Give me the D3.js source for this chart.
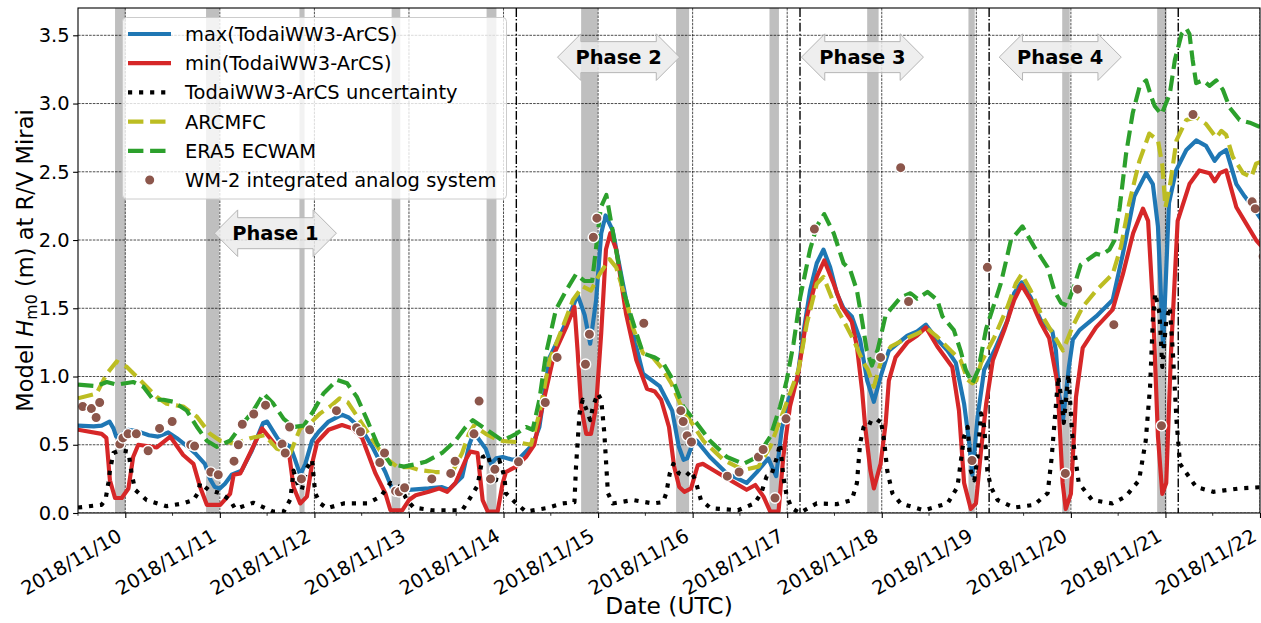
<!DOCTYPE html>
<html><head><meta charset="utf-8">
<script src="https://cdn.jsdelivr.net/npm/d3@7"></script>
<style>
body{margin:0;background:#fff;}
svg{display:block;font-family:"DejaVu Sans",sans-serif;}
</style></head><body>
<svg id="c" width="1261" height="623"></svg>
<script>
// ---------------- DATA (hours since 2018-11-10 00:00 UTC, value in m) ----------------
const dayTicks = ["2018/11/10","2018/11/11","2018/11/12","2018/11/13","2018/11/14","2018/11/15","2018/11/16","2018/11/17","2018/11/18","2018/11/19","2018/11/20","2018/11/21","2018/11/22"];
const yTicks = [0,0.5,1.0,1.5,2.0,2.5,3.0,3.5];

const maxTodai = [[-12,0.64],[-8,0.635],[-6,0.64],[-4,0.67],[-3,0.62],[-2.3,0.56],[-1,0.57],[0.7,0.61],[3,0.60],[6,0.57],[8.3,0.56],[10.9,0.59],[13,0.55],[15.9,0.485],[18,0.43],[20.2,0.36],[21.5,0.25],[22.7,0.19],[24,0.18],[25.3,0.215],[27,0.28],[29.5,0.31],[32,0.45],[35,0.66],[36,0.67],[38.8,0.54],[41.9,0.485],[43.1,0.39],[44.4,0.28],[45.7,0.36],[47.4,0.53],[49.1,0.595],[51.6,0.67],[55,0.72],[56.7,0.70],[60.1,0.61],[62.7,0.485],[66,0.30],[67.7,0.18],[72,0.17],[77,0.18],[80.4,0.19],[82.1,0.17],[85.5,0.265],[87.3,0.50],[88.5,0.59],[90,0.53],[91.5,0.47],[92.8,0.36],[94.1,0.40],[95.8,0.41],[98.3,0.39],[100,0.40],[103.4,0.50],[105.1,0.63],[107.7,1.14],[110.2,1.29],[113.6,1.51],[114.8,1.60],[116.6,1.45],[118,1.24],[119.5,1.56],[120.8,2.05],[121.9,2.18],[123.7,2.07],[126.3,1.68],[128.8,1.32],[131.4,1.02],[135.6,0.93],[138.8,0.75],[140.5,0.485],[141.7,0.39],[142.6,0.40],[143.7,0.485],[145,0.53],[148.4,0.41],[152.7,0.29],[157.7,0.22],[160.3,0.30],[163.2,0.40],[165.2,0.27],[166.6,0.61],[168.3,0.83],[170.5,0.97],[172.1,1.32],[173.8,1.63],[175.5,1.83],[177.2,1.93],[178.9,1.80],[180.6,1.61],[182.3,1.50],[184.4,1.44],[186.5,1.27],[188.3,0.97],[190,0.815],[191.7,1.0],[193.8,1.19],[198.5,1.30],[201,1.33],[203.2,1.38],[206.1,1.27],[208.7,1.19],[210.8,1.10],[212.9,0.80],[214.2,0.51],[215,0.28],[216.3,0.70],[218,1.05],[220.6,1.19],[223.9,1.41],[225.6,1.61],[227.5,1.69],[229.8,1.58],[232.4,1.41],[235.3,1.33],[236.2,1.19],[237,0.88],[238,0.68],[239.5,1.07],[240.5,1.27],[242.2,1.34],[246.4,1.44],[250.6,1.56],[253.2,1.90],[256.1,2.32],[259.1,2.49],[260.8,2.41],[262.1,2.10],[263.4,1.22],[264.9,2.27],[266.7,2.51],[269.3,2.66],[271.8,2.73],[274.3,2.69],[276.5,2.58],[277.8,2.63],[279.4,2.66],[282,2.41],[284.1,2.32],[286.7,2.22],[288.8,2.13]];

const minTodai = [[-12,0.61],[-6,0.58],[-4.8,0.55],[-3.9,0.24],[-2.6,0.11],[-0.9,0.11],[0.8,0.18],[2.0,0.41],[3.3,0.50],[8,0.48],[11.4,0.56],[14.7,0.425],[17.3,0.36],[19,0.19],[20.7,0.06],[24.1,0.06],[26.6,0.14],[27.5,0.28],[29.2,0.29],[34.7,0.62],[38.5,0.485],[41.5,0.45],[42.7,0.19],[44.4,0.07],[46.1,0.12],[47.4,0.36],[48.7,0.52],[51.6,0.61],[55,0.645],[57.6,0.62],[60.1,0.55],[63.5,0.29],[66,0.145],[67.3,0.02],[70.3,0.02],[72,0.095],[73.7,0.13],[77,0.155],[79.6,0.18],[81.7,0.155],[83.8,0.22],[86.4,0.39],[87.6,0.45],[89.4,0.44],[90.7,0.095],[92,0.01],[94.5,0.01],[95.8,0.22],[96.6,0.30],[99.2,0.34],[101.7,0.41],[103.8,0.50],[106.4,0.85],[108.9,1.17],[111.9,1.36],[114,1.51],[114.8,1.19],[115.7,0.78],[117,0.58],[118.2,0.58],[119.5,0.78],[120.8,1.32],[122,1.93],[123.1,2.05],[124.6,1.93],[127.1,1.46],[129.7,1.12],[132.4,0.91],[134.4,0.89],[136,0.83],[138,0.63],[139.3,0.34],[140.6,0.19],[141.9,0.155],[143.6,0.18],[145.3,0.35],[146.6,0.36],[149.5,0.31],[151.8,0.27],[157.7,0.17],[159.9,0.205],[162,0.12],[163.7,0.01],[165.8,0.01],[167,0.41],[168.7,0.78],[170.8,1.02],[173,1.44],[175.5,1.73],[177.4,1.85],[179.8,1.68],[181.9,1.51],[184.4,1.40],[185.7,1.22],[187,0.90],[187.8,0.63],[189.1,0.315],[190,0.18],[191.7,0.36],[193,0.66],[193.8,0.97],[195.5,1.14],[198.5,1.25],[201,1.30],[203.2,1.36],[206.1,1.22],[209.9,1.07],[211.6,0.75],[212.9,0.22],[214.6,0.03],[215.9,0.07],[217.2,0.46],[218.5,0.80],[220.2,1.12],[223.1,1.34],[225.6,1.56],[227.5,1.67],[229.8,1.56],[232.4,1.39],[234.5,1.28],[236.6,0.95],[237.9,0.22],[238.7,0.03],[240,0.14],[241.3,0.85],[243,1.21],[246.4,1.36],[250.6,1.49],[253.2,1.75],[255.8,2.05],[258.3,2.23],[259.6,2.14],[260.8,1.54],[262.1,0.56],[263.2,0.14],[264.2,0.22],[265.4,1.17],[267.1,2.14],[270.1,2.41],[272.6,2.51],[275.2,2.49],[276.5,2.43],[277.8,2.49],[279.4,2.51],[282,2.24],[284.5,2.12],[287,2.0],[288.8,1.94]];

const uncertainty = [[-12,0.04],[-6,0.06],[-5,0.10],[-4.3,0.22],[-3.9,0.31],[-3,0.44],[-1.3,0.46],[0.8,0.45],[1.6,0.29],[2.5,0.17],[5.4,0.095],[10.5,0.05],[14.7,0.07],[17.3,0.095],[18.5,0.15],[19,0.22],[21.1,0.17],[24.1,0.145],[26.6,0.095],[27.9,0.03],[32.5,0.075],[37.6,0.01],[40.2,0.01],[41.9,0.10],[42.7,0.31],[44,0.19],[44.8,0.17],[46.1,0.33],[47.4,0.39],[48.2,0.145],[49.5,0.07],[51.2,0.035],[55.4,0.07],[61.4,0.07],[64.8,0.12],[67.3,0.22],[69.8,0.19],[71.5,0.095],[73.2,0.04],[77.9,0.02],[85.5,0.02],[87.2,0.095],[89.4,0.20],[90.7,0.41],[92,0.43],[93.2,0.29],[94.1,0.24],[94.9,0.39],[96.2,0.27],[96.6,0.145],[99.2,0.07],[101.7,0.01],[106.8,0.035],[111,0.07],[114,0.08],[114.4,0.34],[115.3,0.73],[116.1,0.83],[117.4,0.73],[118,0.68],[118.7,0.78],[119.9,0.875],[120.8,0.83],[121.6,0.58],[122.5,0.145],[123.7,0.07],[128.8,0.095],[133.9,0.07],[136.5,0.08],[137.3,0.145],[138.2,0.29],[139.1,0.36],[140.5,0.29],[142.3,0.27],[143.6,0.31],[144.8,0.23],[146.1,0.095],[148.6,0.035],[155.5,0.02],[159.7,0.07],[161.4,0.145],[162.8,0.27],[164,0.28],[165.4,0.41],[166.2,0.51],[167,0.27],[167.9,0.12],[169.2,0.035],[171.1,0.0],[173.3,0.035],[175.5,0.07],[180.6,0.065],[184.4,0.095],[185.7,0.22],[186.5,0.51],[187.4,0.63],[188.3,0.67],[190.4,0.645],[191.7,0.69],[192.6,0.53],[193.4,0.31],[194.7,0.145],[196.8,0.07],[202.7,0.02],[208.7,0.07],[211.2,0.19],[212.9,0.56],[213.8,0.63],[214.6,0.31],[215.5,0.24],[216.3,0.41],[217.2,0.73],[218,0.63],[218.8,0.31],[219.7,0.19],[221.4,0.095],[225.6,0.04],[230.7,0.06],[234.1,0.145],[235.1,0.40],[236.8,1.0],[237.6,0.83],[238.2,0.66],[239.4,1.02],[240.3,0.585],[242,0.22],[245.4,0.095],[250.5,0.07],[253.9,0.12],[257.3,0.24],[259,0.53],[260.1,0.925],[260.8,1.41],[261.4,1.61],[262.5,1.46],[263.2,1.07],[264.2,1.41],[265.1,1.51],[265.9,1.17],[266.8,0.68],[267.7,0.36],[271.8,0.19],[276.1,0.155],[282.8,0.18],[288.8,0.19]];

const arcmfc = [[-12,0.84],[-7.3,0.875],[-4.7,1.02],[-2.2,1.11],[0.4,1.07],[3.7,0.975],[8,0.85],[10.5,0.80],[14.7,0.78],[18.2,0.705],[21.5,0.58],[24.1,0.53],[27.8,0.51],[32,0.55],[35.4,0.57],[38.5,0.47],[41.9,0.44],[44.4,0.62],[47,0.66],[49.5,0.73],[52,0.78],[54.4,0.84],[56.5,0.81],[59.5,0.68],[62.9,0.53],[65.8,0.41],[69.2,0.335],[72.4,0.335],[74.5,0.315],[78.7,0.30],[83,0.30],[85.5,0.44],[87.2,0.58],[88.5,0.64],[91.5,0.58],[94.9,0.53],[99.2,0.52],[103,0.50],[105.1,0.73],[107.7,1.12],[111,1.36],[113.6,1.56],[116.1,1.66],[118.2,1.63],[120.4,1.75],[122.9,1.86],[124.6,1.80],[127.1,1.56],[128.8,1.36],[131.4,1.17],[133.9,1.14],[136.5,1.05],[138.6,0.95],[140.8,0.80],[143.3,0.68],[146.7,0.53],[151.8,0.39],[156.9,0.315],[160.7,0.34],[163.7,0.485],[166.2,0.68],[168.7,0.875],[170.9,1.05],[173,1.39],[175.5,1.68],[177.2,1.73],[179.8,1.54],[182.3,1.41],[184.8,1.27],[187.4,1.10],[188.5,1.05],[190,0.925],[191.7,1.10],[194.3,1.22],[197.7,1.27],[201,1.315],[203.6,1.35],[206.1,1.29],[209.5,1.19],[212,1.12],[213.8,0.975],[215,0.95],[216,0.97],[217.2,1.10],[220.6,1.29],[223.9,1.51],[226,1.68],[227.5,1.75],[229.8,1.63],[232.4,1.46],[235.3,1.32],[238,1.19],[240.5,1.37],[243,1.51],[246.4,1.63],[250.6,1.75],[252.7,1.95],[254.8,2.27],[257.4,2.58],[259.9,2.78],[262.1,2.73],[263.2,2.55],[264,2.24],[265.1,2.39],[266.8,2.73],[269.3,2.88],[271.8,2.90],[274.3,2.85],[276.9,2.75],[278.2,2.80],[279.4,2.77],[281.1,2.61],[283.7,2.49],[285.8,2.46],[287,2.56],[288.8,2.58]];

const era5 = [[-12,0.94],[-7.3,0.93],[-4.7,0.96],[-2.2,0.94],[2,0.96],[4.6,0.925],[7.1,0.83],[9.7,0.83],[12.2,0.815],[15.6,0.75],[18.2,0.63],[20.7,0.53],[23.2,0.485],[26.6,0.53],[30,0.66],[32.5,0.75],[35.1,0.875],[37.6,0.80],[40.2,0.69],[42.7,0.63],[45.3,0.64],[47.8,0.75],[50.3,0.875],[53.8,0.975],[56.3,0.95],[58.8,0.85],[61.4,0.68],[63.9,0.51],[67.3,0.36],[70.7,0.34],[74.1,0.36],[76.2,0.375],[80.4,0.44],[83.8,0.53],[86.4,0.63],[88.2,0.68],[90.7,0.63],[93.2,0.58],[95.8,0.53],[99.2,0.58],[101.7,0.63],[103.4,0.61],[105.1,0.83],[106.8,1.17],[109.3,1.49],[111.9,1.63],[114.4,1.75],[116.5,1.70],[118.5,1.70],[120.7,2.24],[122.1,2.33],[124.1,2.0],[126.6,1.61],[129.7,1.32],[131.4,1.17],[134.4,1.14],[136.5,1.10],[139,0.975],[141.6,0.78],[145,0.66],[148.4,0.53],[152.7,0.41],[156.9,0.36],[160.3,0.41],[163.7,0.56],[166.2,0.78],[167.9,0.975],[169.6,1.24],[171.3,1.58],[173.8,1.93],[175.5,2.10],[177.4,2.19],[179.8,2.05],[182.3,1.83],[184,1.78],[185.7,1.63],[187,1.41],[188.2,1.19],[189.5,1.08],[191,1.20],[193,1.45],[196.8,1.58],[199.3,1.61],[201,1.57],[203.6,1.62],[206.1,1.56],[207.4,1.44],[210.3,1.34],[212,1.19],[213.3,1.05],[215,0.95],[216.5,1.05],[218.5,1.35],[222.2,1.68],[224.8,2.0],[227.7,2.10],[230.7,1.95],[234.1,1.80],[235.8,1.63],[237.5,1.54],[239,1.52],[240.8,1.66],[242.5,1.82],[246.4,1.90],[247.8,1.89],[249.8,1.93],[251.1,2.0],[252.4,2.24],[254,2.63],[255.7,2.93],[257.4,3.12],[259.1,3.17],[260.4,3.05],[261.3,2.98],[263,2.92],[265.1,3.07],[266.4,3.32],[268.1,3.51],[269.3,3.55],[270.1,3.51],[270.9,3.32],[271.8,3.15],[273.5,3.17],[275.2,3.13],[276.9,3.17],[278.6,3.10],[280.3,2.97],[282.8,2.88],[285.4,2.86],[287.9,2.83],[288.8,2.78]];

const wm2 = [[-10.8,0.78],[-8.6,0.765],[-7.4,0.70],[-6.5,0.81],[-1.4,0.505],[-0.6,0.55],[0.7,0.58],[2.8,0.58],[5.8,0.456],[8.7,0.62],[11.9,0.67],[16.6,0.50],[17.6,0.49],[21.7,0.30],[23.6,0.28],[27.6,0.38],[28.7,0.50],[29.7,0.65],[32.6,0.725],[35.6,0.79],[39.8,0.505],[40.6,0.44],[41.7,0.63],[44.7,0.25],[46.8,0.61],[53.6,0.75],[58.7,0.625],[59.7,0.595],[64.6,0.37],[65.8,0.44],[68.6,0.16],[69.5,0.155],[70.9,0.185],[77.8,0.25],[82.6,0.29],[83.7,0.38],[88.5,0.58],[89.8,0.82],[92.7,0.25],[93.8,0.32],[99.8,0.375],[106.6,0.81],[109.6,1.14],[116.8,1.09],[117.8,1.31],[118.8,2.02],[119.7,2.16],[131.6,1.39],[141,0.75],[141.6,0.67],[142.6,0.566],[143.7,0.52],[152.8,0.27],[155.8,0.30],[160.7,0.41],[161.9,0.465],[164.9,0.11],[167.7,0.69],[174.9,2.08],[191.7,1.14],[196.8,2.53],[198.8,1.55],[214.9,0.385],[218.8,1.80],[238.6,0.29],[241.7,1.64],[250.9,1.38],[263,0.64],[271,2.92],[286,2.28],[286.8,2.23],[288.8,1.88]];

// shaded periods [start h, end h]
const shaded = [[-2.6,0],[20.5,23.8],[44.2,45.5],[67.6,69.8],[91.7,94.2],[115.7,119.9],[139.8,143.1],[163.5,165.9],[188.3,191.2],[214,215.6],[237.8,239.7],[261.9,264.3]];
// phase boundaries (h)
const phaseBounds = [99.25,171.25,219.25,267.25];
// phase labels: [label, centre h, centre value]
const phaseLabels = [["Phase 1",38.1,2.05],["Phase 2",125.2,3.34],["Phase 3",187.1,3.34],["Phase 4",237.3,3.34]];

const seriesNames = ["max(TodaiWW3-ArCS)","min(TodaiWW3-ArCS)","TodaiWW3-ArCS uncertainty","ARCMFC","ERA5 ECWAM","WM-2 integrated analog system"];

// ---------------- CHART ----------------
const m = {l:78, r:1260, t:8, b:513};
const base = Date.UTC(2018,10,10);
const T = h => new Date(base + h*3600000);
const x = d3.scaleUtc().domain([T(-12), T(288)]).range([m.l, m.r]);
const y = d3.scaleLinear().domain([0,3.7]).range([m.b, m.t]);
const FS = 19.44;

const svg = d3.select("#c");
svg.append("defs").append("clipPath").attr("id","clip")
  .append("rect").attr("x",m.l).attr("y",m.t).attr("width",m.r-m.l).attr("height",m.b-m.t);
const plot = svg.append("g").attr("clip-path","url(#clip)");

plot.selectAll("rect.band").data(shaded).enter().append("rect")
  .attr("x",d=>x(T(d[0]))).attr("width",d=>x(T(d[1]))-x(T(d[0])))
  .attr("y",m.t).attr("height",m.b-m.t)
  .attr("fill","#808080").attr("fill-opacity",0.5);

const dayDates = dayTicks.map(s=>{const p=s.split("/");return new Date(Date.UTC(+p[0],+p[1]-1,+p[2]));});
plot.selectAll("line.vg").data(dayDates).enter().append("line")
  .attr("x1",d=>x(d)).attr("x2",d=>x(d)).attr("y1",m.t).attr("y2",m.b)
  .attr("stroke","#000").attr("stroke-width",0.7).attr("stroke-dasharray","2.6,1.1");
plot.selectAll("line.hg").data(yTicks).enter().append("line")
  .attr("x1",m.l).attr("x2",m.r).attr("y1",d=>y(d)).attr("y2",d=>y(d))
  .attr("stroke","#000").attr("stroke-width",0.7).attr("stroke-dasharray","2.6,1.1");

plot.selectAll("line.ph").data(phaseBounds).enter().append("line")
  .attr("x1",d=>x(T(d))).attr("x2",d=>x(T(d))).attr("y1",m.t).attr("y2",m.b)
  .attr("stroke","#000").attr("stroke-width",1.4).attr("stroke-dasharray","8.9,2.2,1.4,2.2");

const line = d3.line().x(d=>x(T(d[0]))).y(d=>y(d[1]));
const styles = [
  {data:maxTodai, color:"#1f77b4", dash:null},
  {data:minTodai, color:"#d62728", dash:null},
  {data:uncertainty, color:"#000000", dash:"4.17,6.88"},
  {data:arcmfc, color:"#bcbd22", dash:"15.4,6.7"},
  {data:era5, color:"#2ca02c", dash:"15.4,6.7"}
];
styles.forEach(s=>{
  plot.append("path").datum(s.data).attr("d",line)
    .attr("fill","none").attr("stroke",s.color).attr("stroke-width",4.17)
    .attr("stroke-linejoin","round").attr("stroke-linecap", s.dash?"butt":"square")
    .attr("stroke-dasharray",s.dash);
});
plot.selectAll("circle.wm").data(wm2).enter().append("circle")
  .attr("cx",d=>x(T(d[0]))).attr("cy",d=>y(d[1])).attr("r",5.2)
  .attr("fill","#8c564b").attr("stroke","#fff").attr("stroke-width",1.4);

const aw=122, bh=15.5, hh=23.3, hl=23.3;
phaseLabels.forEach(p=>{
  const cx=x(T(p[1])), cy=y(p[2]);
  const L=cx-aw/2, R=cx+aw/2;
  const pts=[[L,cy],[L+hl,cy-hh],[L+hl,cy-bh],[R-hl,cy-bh],[R-hl,cy-hh],[R,cy],[R-hl,cy+hh],[R-hl,cy+bh],[L+hl,cy+bh],[L+hl,cy+hh]];
  svg.append("path").attr("d","M"+pts.map(q=>q.join(",")).join("L")+"Z")
    .attr("fill","#ebebeb").attr("fill-opacity",0.85).attr("stroke","#b5b5b5").attr("stroke-width",1);
  svg.append("text").attr("x",cx).attr("y",cy).attr("dy","0.34em").attr("text-anchor","middle")
    .attr("font-size",FS).attr("font-weight","bold").text(p[0]);
});

svg.append("rect").attr("x",m.l).attr("y",m.t).attr("width",m.r-m.l).attr("height",m.b-m.t)
  .attr("fill","none").attr("stroke","#000").attr("stroke-width",1.1);

const xa = svg.append("g").attr("transform",`translate(0,${m.b})`)
  .call(d3.axisBottom(x).tickValues(dayDates).tickFormat((d,i)=>dayTicks[i]).tickSize(4.9).tickPadding(0));
xa.select(".domain").remove();
xa.selectAll("line").attr("stroke","#000").attr("stroke-width",1.1);
xa.selectAll("text").attr("font-size",FS).attr("fill","#000").attr("font-family","DejaVu Sans")
  .attr("text-anchor","end").attr("dy","0.76em").attr("y",0)
  .attr("transform","translate(-10,14) rotate(-30)");
const minor = dayDates.slice(0,-1).map(d=>new Date(+d+12*3600000)).concat([T(-12)]);
svg.append("g").selectAll("line").data(minor).enter().append("line")
  .attr("x1",d=>x(d)).attr("x2",d=>x(d)).attr("y1",m.b).attr("y2",m.b+2.8)
  .attr("stroke","#000").attr("stroke-width",0.8);

const ya = svg.append("g").attr("transform",`translate(${m.l},0)`)
  .call(d3.axisLeft(y).tickValues(yTicks).tickFormat(d3.format(".1f")).tickSize(4.9).tickPadding(3.5));
ya.select(".domain").remove();
ya.selectAll("line").attr("stroke","#000").attr("stroke-width",1.1);
ya.selectAll("text").attr("font-size",FS).attr("fill","#000").attr("font-family","DejaVu Sans");

svg.append("text").attr("x",(m.l+m.r)/2).attr("y",614).attr("text-anchor","middle")
  .attr("font-size",23.3).text("Date (UTC)");
const yl = svg.append("text").attr("transform",`translate(33,${(m.t+m.b)/2}) rotate(-90)`)
  .attr("text-anchor","middle").attr("font-size",22.6);
yl.append("tspan").text("Model ");
yl.append("tspan").attr("font-style","italic").text("H");
yl.append("tspan").attr("font-size",15.8).attr("dy",4.4).text("m0");
yl.append("tspan").attr("dy",-4.4).text(" (m) at R/V Mirai");

const lg = svg.append("g");
lg.append("rect").attr("x",122.5).attr("y",17.5).attr("width",384).attr("height",181.5).attr("rx",4)
  .attr("fill","#fff").attr("fill-opacity",0.8).attr("stroke","#cccccc").attr("stroke-width",1);
const rowY = i => 34 + i*29.2;
seriesNames.forEach((n,i)=>{
  const yy=rowY(i);
  if(i<5){
    const s=styles[i];
    lg.append("line").attr("x1",128).attr("x2",171).attr("y1",yy).attr("y2",yy)
      .attr("stroke",s.color).attr("stroke-width",4.17).attr("stroke-dasharray",s.dash)
      .attr("stroke-linecap","butt");
  } else {
    lg.append("circle").attr("cx",149.7).attr("cy",yy).attr("r",5.2)
      .attr("fill","#8c564b").attr("stroke","#fff").attr("stroke-width",1.4);
  }
  lg.append("text").attr("x",185).attr("y",yy).attr("dy","0.36em").attr("font-size",FS).text(n);
});
</script>
</body></html>
